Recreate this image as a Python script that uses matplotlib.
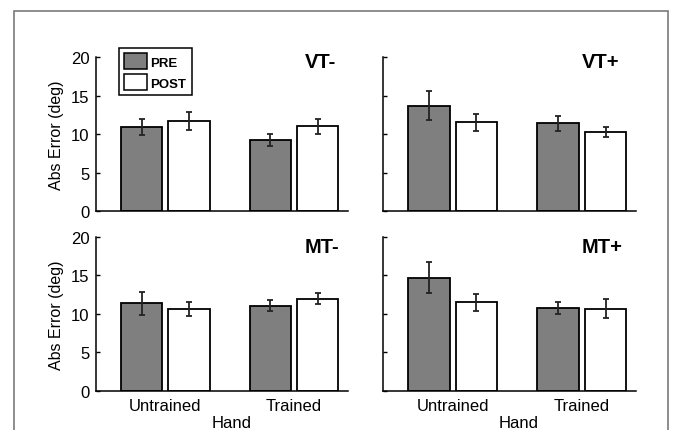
import matplotlib.pyplot as plt
import numpy as np
from matplotlib.patches import Patch, Rectangle

plt.rcParams['font.family'] = ['Liberation Sans', 'DejaVu Sans']

hands = ['Untrained', 'Trained']
panels = ['VT-', 'VT+', 'MT-', 'MT+']

# mean abs error (deg) and error bar half-widths, [Untrained, Trained]
pre_mean = {'VT-': [10.9, 9.2], 'VT+': [13.7, 11.4], 'MT-': [11.4, 11.1], 'MT+': [14.7, 10.8]}
pre_err = {'VT-': [1.0, 0.8], 'VT+': [1.85, 0.95], 'MT-': [1.5, 0.73], 'MT+': [2.0, 0.78]}
post_mean = {'VT-': [11.7, 11.0], 'VT+': [11.5, 10.3], 'MT-': [10.6, 12.0], 'MT+': [11.5, 10.7]}
post_err = {'VT-': [1.2, 0.95], 'VT+': [1.1, 0.65], 'MT-': [0.9, 0.73], 'MT+': [1.1, 1.2]}

fig = plt.figure(figsize=(6.73, 4.31), dpi=100)

# outer frame
fig.patches.append(Rectangle((14/673, -0.1), (668-14)/673, 1.1 - 12/431,
                             transform=fig.transFigure, fill=False,
                             edgecolor='#7a7a7a', linewidth=1.2))

pos = {'VT-': [0.1426, 0.5081, 0.3745, 0.3573],
       'VT+': [0.5691, 0.5081, 0.3759, 0.3573],
       'MT-': [0.1426, 0.0905, 0.3745, 0.3573],
       'MT+': [0.5691, 0.0905, 0.3759, 0.3573]}
# title placement (axes fraction, left / baseline)
title_xy = {'VT-': (0.829, 0.933), 'VT+': (0.787, 0.933),
            'MT-': (0.829, 0.90), 'MT+': (0.787, 0.90)}

x = np.arange(1, 3)
w = 0.32
off = 0.184

for name in panels:
    ax = fig.add_axes(pos[name])
    ax.bar(x - off, pre_mean[name], w, color='#7f7f7f', edgecolor='black', linewidth=1.3)
    ax.bar(x + off, post_mean[name], w, color='white', edgecolor='black', linewidth=1.3)
    ax.errorbar(x - off, pre_mean[name], yerr=pre_err[name], fmt='none',
                ecolor='#222222', elinewidth=1.3, capsize=2, capthick=1.3)
    ax.errorbar(x + off, post_mean[name], yerr=post_err[name], fmt='none',
                ecolor='#222222', elinewidth=1.3, capsize=2, capthick=1.3)
    ax.set_xlim(0.46, 2.42)
    ax.set_ylim(0, 20)
    ax.set_yticks([0, 5, 10, 15, 20])
    ax.spines['top'].set_visible(False)
    ax.spines['right'].set_visible(False)
    ax.spines['left'].set_linewidth(1.1)
    ax.spines['bottom'].set_linewidth(1.1)
    ax.tick_params(axis='y', direction='in', length=3, width=1, labelsize=12, pad=4.5)
    ax.tick_params(axis='x', length=0, labelsize=12, pad=5)
    tx, ty = title_xy[name]
    ax.text(tx, ty, name, transform=ax.transAxes, ha='left', va='baseline',
            fontsize=14.5, fontweight='bold')
    if name in ('VT-', 'MT-'):
        ax.set_ylabel('Abs Error (deg)', fontsize=11.5, labelpad=5)
    else:
        ax.set_yticklabels([])
    if name in ('MT-', 'MT+'):
        ax.set_xticks(x)
        ax.set_xticklabels(hands)
        ax.set_xlabel('Hand', fontsize=12, labelpad=1.5)
        ax.xaxis.label.set_x(0.537)
    else:
        ax.set_xticks([])
    if name == 'VT-':
        handles = [Patch(facecolor='#7f7f7f', edgecolor='black', linewidth=1.1, label='PRE'),
                   Patch(facecolor='white', edgecolor='black', linewidth=1.1, label='POST')]
        leg = ax.legend(handles=handles, loc='upper left', bbox_to_anchor=(0.091, 1.058),
                        borderaxespad=0, prop={'weight': 'bold', 'size': 9.5},
                        frameon=True, fancybox=False, framealpha=1,
                        edgecolor='black', handlelength=1.7, handleheight=1.45,
                        handletextpad=0.3, borderpad=0.4, labelspacing=0.4)
        leg.get_frame().set_linewidth(1.1)

plt.savefig('out.png', dpi=100)
